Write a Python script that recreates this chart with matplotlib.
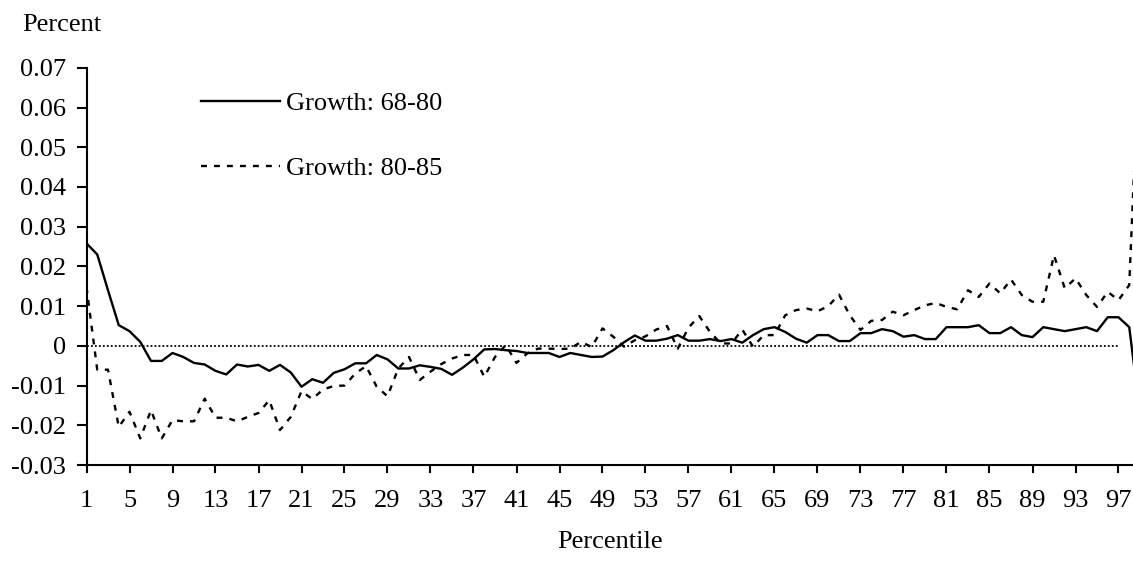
import numpy as np
import matplotlib as mpl
mpl.use('Agg')
import matplotlib.pyplot as plt

# percentiles 1..99
percentile = np.arange(1, 100)

growth_68_80 = [
    0.0258, 0.0230, 0.0140, 0.0052, 0.0037, 0.0010, -0.0038, -0.0038, -0.0018, -0.0028,
    -0.0043, -0.0047, -0.0063, -0.0072, -0.0047, -0.0052, -0.0048, -0.0063, -0.0048, -0.0067,
    -0.0103, -0.0084, -0.0093, -0.0068, -0.0059, -0.0044, -0.0044, -0.0023, -0.0034, -0.0057,
    -0.0057, -0.0049, -0.0053, -0.0058, -0.0073, -0.0055, -0.0034, -0.0009, -0.0008, -0.0011,
    -0.0013, -0.0018, -0.0018, -0.0018, -0.0028, -0.0018, -0.0023, -0.0028, -0.0027, -0.0011,
    0.0009, 0.0026, 0.0013, 0.0013, 0.0018, 0.0027, 0.0013, 0.0013, 0.0017, 0.0012,
    0.0017, 0.0008, 0.0027, 0.0042, 0.0047, 0.0035, 0.0018, 0.0008, 0.0027, 0.0027,
    0.0012, 0.0012, 0.0032, 0.0032, 0.0042, 0.0037, 0.0023, 0.0027, 0.0017, 0.0017,
    0.0047, 0.0047, 0.0047, 0.0052, 0.0032, 0.0032, 0.0047, 0.0027, 0.0022, 0.0047,
    0.0042, 0.0037, 0.0042, 0.0047, 0.0037, 0.0072, 0.0072, 0.0047, -0.0170,
]

growth_80_85 = [
    0.0148, -0.0060, -0.0060, -0.0204, -0.0166, -0.0233, -0.0162, -0.0233, -0.0187, -0.0190,
    -0.0190, -0.0133, -0.0181, -0.0181, -0.0190, -0.0179, -0.0169, -0.0137, -0.0212, -0.0179,
    -0.0114, -0.0134, -0.0110, -0.0101, -0.0100, -0.0070, -0.0051, -0.0103, -0.0127, -0.0057,
    -0.0028, -0.0086, -0.0065, -0.0046, -0.0032, -0.0023, -0.0023, -0.0078, -0.0028, 0.0002,
    -0.0043, -0.0019, -0.0007, -0.0007, -0.0008, -0.0007, 0.0010, -0.0003, 0.0044, 0.0023,
    -0.0002, 0.0014, 0.0024, 0.0041, 0.0050, -0.0007, 0.0046, 0.0075, 0.0035, 0.0006,
    0.0006, 0.0041, -0.0002, 0.0027, 0.0027, 0.0077, 0.0090, 0.0094, 0.0087, 0.0100,
    0.0129, 0.0077, 0.0040, 0.0063, 0.0065, 0.0086, 0.0077, 0.0090, 0.0102, 0.0108,
    0.0098, 0.0092, 0.0140, 0.0123, 0.0157, 0.0132, 0.0167, 0.0128, 0.0111, 0.0111,
    0.0228, 0.0145, 0.0170, 0.0128, 0.0098, 0.0136, 0.0115, 0.0153, 0.0800,
]

zero_ref_end = 97  # dotted zero line runs to percentile 97

x_ticks = list(range(1, 98, 4))
y_ticks = [-0.03, -0.02, -0.01, 0, 0.01, 0.02, 0.03, 0.04, 0.05, 0.06, 0.07]

plt.rcParams['font.family'] = ['Liberation Serif', 'DejaVu Serif']
fs = 19

fig = plt.figure(figsize=(11.33, 5.61), dpi=100)
ax = fig.add_axes([86.5 / 1133, 96 / 561, (1133 - 86.5) / 1133, (465 - 67.8) / 561])

ax.plot(percentile[:zero_ref_end], [0] * zero_ref_end, color='black', lw=1.3,
        linestyle=(0, (1, 1.2)))
ax.plot(percentile, growth_68_80, color='black', lw=1.7, label='Growth: 68-80')
ax.plot(percentile, growth_80_85, color='black', lw=1.7, linestyle=(0, (2.5, 3)),
        label='Growth: 80-85')

ax.set_xlim(1, 1 + (1133 - 86.5) / 10.75)
ax.set_ylim(-0.03, 0.07)
ax.set_xticks(x_ticks)
ax.set_xticklabels([str(t) for t in x_ticks], fontsize=fs)
ax.set_yticks(y_ticks)
ax.set_yticklabels(['0' if v == 0 else f'{v:.2f}' for v in y_ticks], fontsize=fs)

for side in ['top', 'right']:
    ax.spines[side].set_visible(False)
for side in ['left', 'bottom']:
    ax.spines[side].set_linewidth(1.5)
ax.tick_params(axis='y', length=7, width=1.5, pad=8)
ax.tick_params(axis='x', length=6, width=1.5, pad=12)

fig.text(22 / 1133, 1 - 25 / 561, 'Percent', fontsize=fs, va='center', ha='left')
ax.set_xlabel('Percentile', fontsize=fs, labelpad=14)

leg = ax.legend(loc='upper left', bbox_to_anchor=(0.099, 0.966), frameon=False,
                fontsize=fs, handlelength=3.0, handletextpad=0.22, labelspacing=1.58,
                borderaxespad=0)

fig.savefig('out.png', dpi=100)
